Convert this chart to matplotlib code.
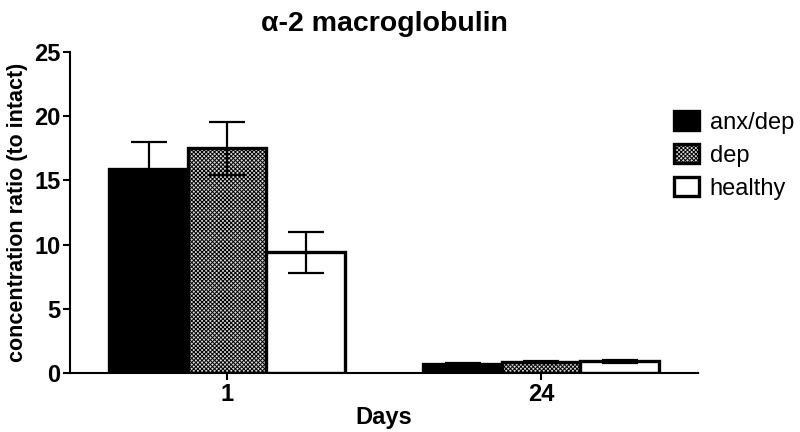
import matplotlib
matplotlib.use("Agg")
import matplotlib.pyplot as plt
import numpy as np

plt.rcParams['font.family'] = ['Liberation Sans', 'DejaVu Sans']
plt.rcParams['hatch.linewidth'] = 0.7

days = ["1", "24"]
groups = ["anx/dep", "dep", "healthy"]
anx_dep = [15.9, 0.7]
dep = [17.5, 0.85]
healthy = [9.4, 0.9]
anx_dep_err = [2.1, 0.1]
dep_err = [2.05, 0.1]
healthy_err = [1.6, 0.1]

fig = plt.figure(figsize=(8, 4.32), dpi=100)
ax = fig.add_axes([0.0875, 0.1366, 0.785, 0.743])

x = np.arange(len(days))
w = 0.25
series = [(anx_dep, anx_dep_err, dict(facecolor='black', hatch=None)),
          (dep, dep_err, dict(facecolor='#d8d8d8', hatch='xxxxxxxx')),
          (healthy, healthy_err, dict(facecolor='white', hatch=None))]
handles = []
for i, (vals, errs, st) in enumerate(series):
    b = ax.bar(x + (i - 1) * w, vals, w, color=st['facecolor'], edgecolor='black',
               linewidth=2.4, hatch=st['hatch'], label=groups[i], zorder=2)
    ax.errorbar(x + (i - 1) * w, vals, yerr=errs, fmt='none', ecolor='black',
                elinewidth=1.6, capsize=13, capthick=1.6, zorder=3)
    handles.append(b)

ax.set_xlim(-0.5, 1.5)
ax.set_ylim(0, 25)
ax.set_yticks([0, 5, 10, 15, 20, 25])
ax.set_xticks(x)
ax.set_xticklabels(days)
for s in ['top', 'right']:
    ax.spines[s].set_visible(False)
for s in ['left', 'bottom']:
    ax.spines[s].set_linewidth(1.5)
ax.tick_params(axis='both', width=1.5, length=5, labelsize=17, direction='out', pad=2)
for lab in ax.get_xticklabels() + ax.get_yticklabels():
    lab.set_fontweight('bold')

ax.set_ylabel('concentration ratio (to intact)', fontsize=15.5, fontweight='bold', labelpad=4)
ax.set_xlabel('Days', fontsize=17, fontweight='bold', labelpad=0)
ax.set_title('α-2 macroglobulin', fontsize=20.5, fontweight='bold', pad=15)

leg = ax.legend(handles=handles, loc='upper left', bbox_to_anchor=(0.946, 0.846),
                frameon=False, fontsize=17, handlelength=1.06, handleheight=0.9,
                labelspacing=0.42, handletextpad=0.47, borderaxespad=0)

fig.savefig('out.png', dpi=100)
